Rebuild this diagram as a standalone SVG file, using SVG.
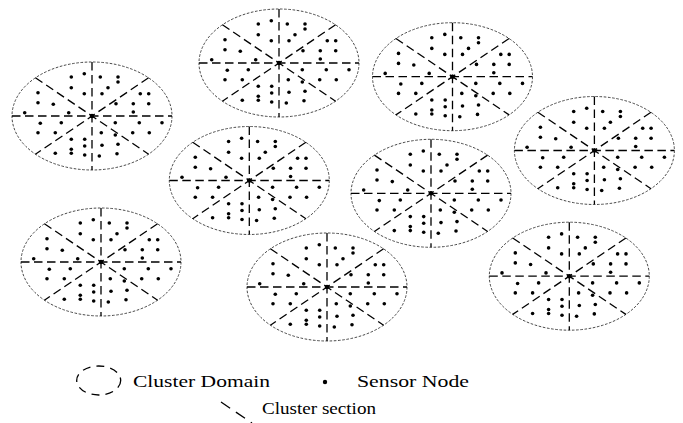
<svg xmlns="http://www.w3.org/2000/svg" xmlns:xlink="http://www.w3.org/1999/xlink" width="683" height="423" viewBox="0 0 683 423">
<style>
.dom{fill:none;stroke:#333;stroke-width:0.9;stroke-dasharray:2.6 1.6}
.sec{fill:none;stroke:#000;stroke-width:1.3;stroke-dasharray:8.5 4.5}
.dot{fill:#000}
.lbl{font-family:"Liberation Serif","Times New Roman",serif;font-size:17px;fill:#000}
</style>
<defs>
<g id="cl">
<ellipse class="dom" cx="0" cy="0" rx="80" ry="54"/>
<line class="sec" x1="-80" y1="0" x2="80" y2="0"/>
<line class="sec" x1="0" y1="-54" x2="0" y2="54"/>
<line class="sec" x1="-56.6" y1="-38.2" x2="56.6" y2="38.2"/>
<line class="sec" x1="56.6" y1="-38.2" x2="-56.6" y2="38.2"/>
<circle class="dot" cx="0" cy="0" r="2.3"/>
<g class="dot">
<circle cx="-20.7" cy="-39" r="1.8"/><circle cx="-7.7" cy="-42.3" r="1.8"/><circle cx="-20.7" cy="-28.3" r="1.8"/><circle cx="-7.7" cy="-22.3" r="1.8"/><circle cx="-54" cy="-23.3" r="1.8"/><circle cx="-54" cy="-13.3" r="1.8"/><circle cx="-38.7" cy="-11.7" r="1.8"/><circle cx="-67.3" cy="-3.3" r="1.8"/><circle cx="-23.3" cy="-3.3" r="1.8"/>
<circle cx="8.3" cy="-39" r="1.8"/><circle cx="26" cy="-39" r="1.8"/><circle cx="26" cy="-34" r="1.8"/><circle cx="16" cy="-28.3" r="1.8"/><circle cx="10" cy="-22.3" r="1.8"/><circle cx="48.3" cy="-22.3" r="1.8"/><circle cx="56.7" cy="-22.3" r="1.8"/><circle cx="24" cy="-12.3" r="1.8"/><circle cx="41.3" cy="-12.3" r="1.8"/><circle cx="56.7" cy="-12.3" r="1.8"/><circle cx="41.3" cy="-4" r="1.8"/>
<circle cx="-51.7" cy="7.3" r="1.8"/><circle cx="-30.7" cy="6.7" r="1.8"/><circle cx="-54" cy="16.7" r="1.8"/><circle cx="-36.7" cy="16.7" r="1.8"/><circle cx="-20.7" cy="23.3" r="1.8"/><circle cx="-7.3" cy="23.3" r="1.8"/><circle cx="-20.7" cy="33.3" r="1.8"/><circle cx="-20.7" cy="37.3" r="1.8"/><circle cx="-7.3" cy="30" r="1.8"/><circle cx="-36.7" cy="37.3" r="1.8"/><circle cx="-7.3" cy="39" r="1.8"/>
<circle cx="23.3" cy="6.7" r="1.8"/><circle cx="47.3" cy="6.7" r="1.8"/><circle cx="70" cy="6.7" r="1.8"/><circle cx="9.3" cy="16.7" r="1.8"/><circle cx="23.3" cy="19" r="1.8"/><circle cx="40.7" cy="16.7" r="1.8"/><circle cx="57.3" cy="16.7" r="1.8"/><circle cx="10" cy="29.3" r="1.8"/><circle cx="26" cy="28.3" r="1.8"/><circle cx="7.3" cy="40" r="1.8"/><circle cx="25" cy="37.7" r="1.8"/>
</g>
</g>
</defs>
<rect width="683" height="423" fill="#fff"/>
<g id="cluster1" transform="translate(92,116)"><use xlink:href="#cl"/></g>
<g id="cluster2" transform="translate(279,63)"><use xlink:href="#cl"/></g>
<g id="cluster3" transform="translate(452.5,76.7)"><use xlink:href="#cl"/></g>
<g id="cluster4" transform="translate(249.3,180.5)"><use xlink:href="#cl"/></g>
<g id="cluster5" transform="translate(431,193.3)"><use xlink:href="#cl"/></g>
<g id="cluster6" transform="translate(594.4,150.5)"><use xlink:href="#cl"/></g>
<g id="cluster7" transform="translate(101,262)"><use xlink:href="#cl"/></g>
<g id="cluster8" transform="translate(327,287)"><use xlink:href="#cl"/></g>
<g id="cluster9" transform="translate(569.3,276.2)"><use xlink:href="#cl"/></g>
<g id="connectors"/>
<g id="legend">
<ellipse cx="98.7" cy="380.5" rx="22" ry="14.5" fill="none" stroke="#000" stroke-width="1.3" stroke-dasharray="8 6"/>
<text class="lbl" x="133" y="387" textLength="137" lengthAdjust="spacingAndGlyphs">Cluster Domain</text>
<circle cx="325" cy="382" r="2.2"/>
<text class="lbl" x="357" y="387" textLength="112" lengthAdjust="spacingAndGlyphs">Sensor Node</text>
<line x1="221" y1="402" x2="252" y2="423" stroke="#000" stroke-width="1.3" stroke-dasharray="11 7"/>
<text class="lbl" x="262" y="414" textLength="114" lengthAdjust="spacingAndGlyphs">Cluster section</text>
</g>
</svg>
